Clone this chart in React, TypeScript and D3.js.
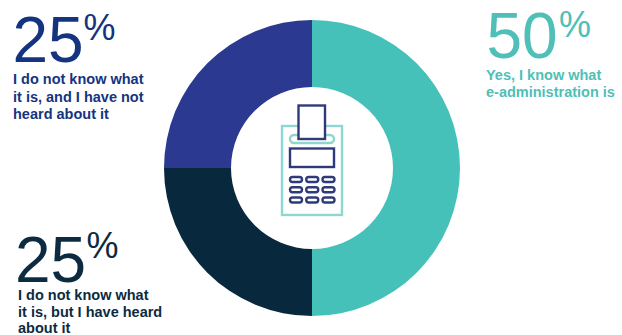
import React from "react";
import * as d3 from "d3";

const categories = [
  "Yes, I know what e-administration is",
  "I do not know what it is, but I have heard about it",
  "I do not know what it is, and I have not heard about it",
];
const values = [50, 25, 25];
const sliceColors = ["#45C1BA", "#08283D", "#2B3990"];
const labelColors = ["#4FBFB7", "#0C2B40", "#14347F"];
const labelLines = [
  ["Yes, I know what", "e-administration is"],
  ["I do not know what", "it is, but I have heard", "about it"],
  ["I do not know what", "it is, and I have not", "heard about it"],
];
const buttonRows = [0, 1, 2];
const buttonCols = [0, 1, 2];

const W = 622;
const H = 335;
const FONT = "'Liberation Sans', Arial, sans-serif";
const cx = 312;
const cy = 168;

// Anchor of each label block: big number start, baseline, then first caption line.
const blocks = [
  { x: 486.5, numY: 58, pctX: 559, pctY: 37, capX: 486, capY: 80, lh: 17 },
  { x: 15, numY: 282, pctX: 86.5, pctY: 258, capX: 18, capY: 300, lh: 16.5 },
  { x: 12.5, numY: 62, pctX: 83.5, pctY: 40, capX: 13, capY: 84, lh: 17.5 },
];

const NAVY = "#2F3B78";
const TEAL = "#8FD5D0";

function RegisterIcon() {
  const bx = d3.scalePoint<number>().domain(buttonCols).range([296, 328.5]);
  const by = d3.scalePoint<number>().domain(buttonRows).range([179.5, 200]);
  return (
    <g fill="none" strokeWidth={2.4}>
      <rect x={282} y={126} width={60} height={89} stroke={TEAL} />
      <rect x={290} y={135} width={44} height={8} rx={4} stroke={TEAL} />
      <rect x={298.5} y={105.5} width={26.5} height={33.5} fill="#fff" stroke={NAVY} />
      <rect x={290} y={148.5} width={44} height={18.5} stroke={NAVY} />
      {buttonRows.map((r) =>
        buttonCols.map((c) => (
          <rect
            key={`${r}-${c}`}
            x={bx(c)! - 6}
            y={by(r)! - 2.5}
            width={12}
            height={5}
            rx={2.5}
            stroke={NAVY}
          />
        ))
      )}
    </g>
  );
}

export default function App() {
  const pie = d3.pie<number>().sort(null).value((d) => d);
  const arc = d3.arc<d3.PieArcDatum<number>>().innerRadius(81).outerRadius(148);
  const arcs = pie(values);

  return (
    <svg
      width={W}
      height={H}
      viewBox={`0 0 ${W} ${H}`}
      style={{ position: "absolute", left: 0, top: 0, background: "#fff" }}
      fontFamily={FONT}
    >
      <g transform={`translate(${cx},${cy})`}>
        {arcs.map((a, i) => (
          <path key={categories[i]} d={arc(a) ?? ""} fill={sliceColors[i]} />
        ))}
      </g>
      <RegisterIcon />
      {blocks.map((b, i) => (
        <g key={categories[i]} fill={labelColors[i]}>
          <text x={b.x} y={b.numY} fontSize={64}>
            {values[i]}
          </text>
          <text x={b.pctX} y={b.pctY} fontSize={36}>
            %
          </text>
          {labelLines[i].map((line, j) => (
            <text
              key={line}
              x={b.capX}
              y={b.capY + j * b.lh}
              fontSize={14.5}
              fontWeight={700}
            >
              {line}
            </text>
          ))}
        </g>
      ))}
    </svg>
  );
}
